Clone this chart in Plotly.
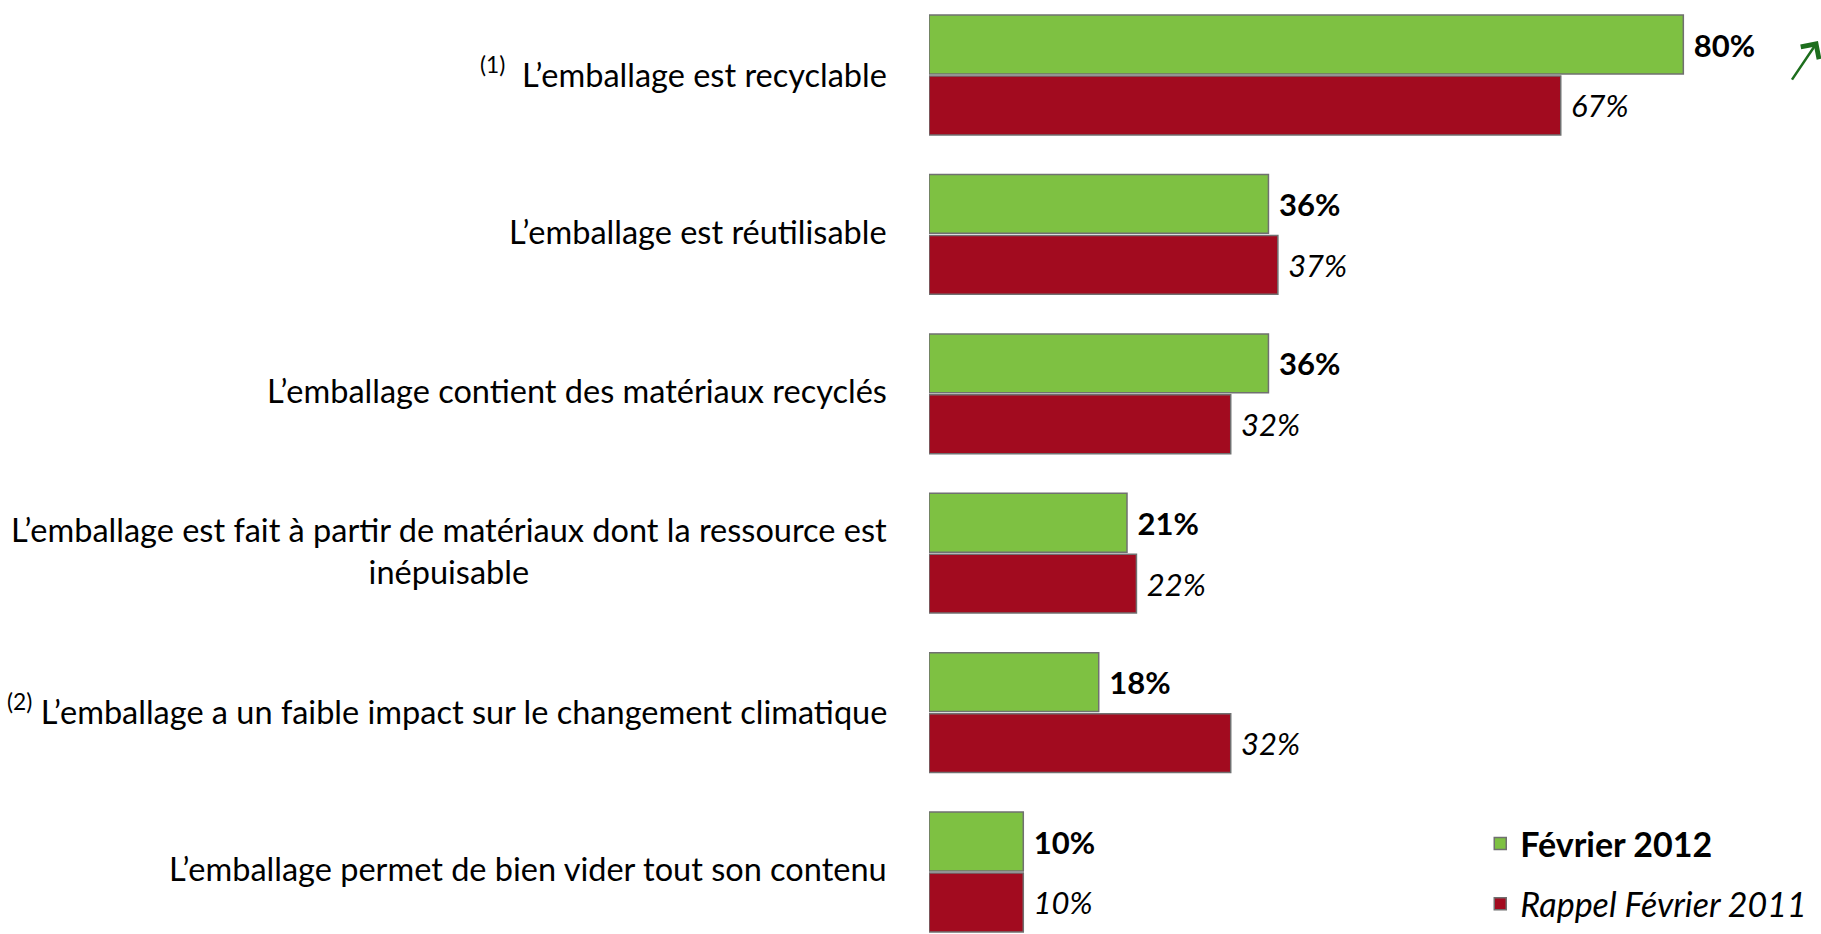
import plotly.graph_objects as go

categories = [
    "<sup>(1)</sup>  L’emballage est recyclable",
    "L’emballage est réutilisable",
    "L’emballage contient des matériaux recyclés",
    "L’emballage est fait à partir de matériaux dont la ressource est<br>inépuisable",
    "<sup>(2)</sup> L’emballage a un faible impact sur le changement climatique",
    "L’emballage permet de bien vider tout son contenu",
]
feb_2012 = [80, 36, 36, 21, 18, 10]
feb_2011 = [67, 37, 32, 22, 32, 10]
series_names = ["<b>Février 2012</b>", "<i>Rappel Février 2011</i>"]

positions = list(range(len(categories)))
FONT = "Lato"

fig = go.Figure()
fig.add_trace(go.Bar(
    y=positions, x=feb_2012, orientation="h", name=series_names[0],
    marker=dict(color="#7ec142", line=dict(color="#707070", width=1.5)),
    text=[f"\u00a0{v}%" for v in feb_2012], textposition="outside",
    textfont=dict(family=FONT, size=31, color="black", weight="bold"),
    constraintext="none", cliponaxis=False, legend="legend",
))
fig.add_trace(go.Bar(
    y=positions, x=feb_2011, orientation="h", name=series_names[1],
    marker=dict(color="#a20b1f", line=dict(color="#707070", width=1.5)),
    text=[f"\u00a0{v}%" for v in feb_2011], textposition="outside",
    textfont=dict(family=FONT, size=31, color="black", style="italic"),
    constraintext="none", cliponaxis=False, legend="legend2",
))

for i, cat in enumerate(categories):
    fig.add_annotation(
        x=0, y=i, xref="x", yref="y", text=cat, showarrow=False,
        xanchor="right", yanchor="middle", align="center", xshift=-40, yshift=3,
        font=dict(family=FONT, size=32.5, color="black"),
    )

# green trend arrow
fig.add_annotation(
    x=0.9966, y=0.956, xref="paper", yref="paper", ax=-27, ay=40,
    text="", showarrow=True, arrowhead=4, arrowsize=1.7, arrowwidth=2.5,
    arrowcolor="#1d6e1d",
)

fig.update_layout(
    width=1821, height=934,
    margin=dict(l=929, r=0, t=0, b=0),
    paper_bgcolor="white", plot_bgcolor="white",
    barmode="group", bargap=0.235, bargroupgap=0.035,
    xaxis=dict(range=[0, 94.6], visible=False),
    yaxis=dict(range=[5.389, -0.4705], visible=False),
    legend=dict(x=0.618, y=0.0964, xanchor="left", yanchor="middle",
                font=dict(family=FONT, size=34, color="black"),
                bgcolor="rgba(0,0,0,0)"),
    legend2=dict(x=0.618, y=0.032, xanchor="left", yanchor="middle",
                 font=dict(family=FONT, size=34, color="black"),
                 bgcolor="rgba(0,0,0,0)"),
    showlegend=True,
)

fig.write_html("out.html", config={"displayModeBar": False},
               post_script="document.body.style.margin='0';")
